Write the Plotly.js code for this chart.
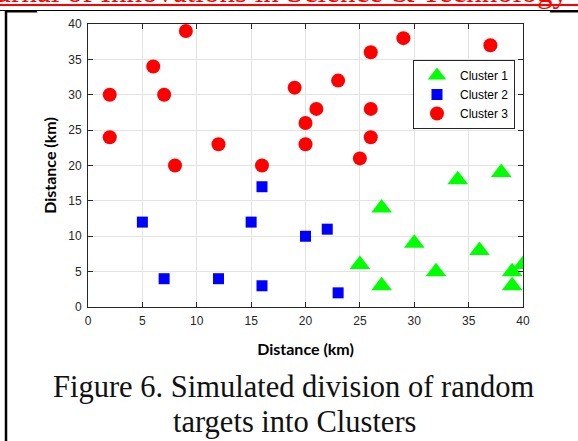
<!DOCTYPE html>
<html>
<head>
<meta charset="utf-8">
<script src="https://cdn.plot.ly/plotly-3.0.1.min.js"></script>
<style>
  html, body { margin: 0; padding: 0; background: #ffffff; }
  #chart { width: 578px; height: 441px; }
</style>
</head>
<body>
<div id="chart"></div>
<script>
// ---- data ----
const cluster1X = [27, 34, 38, 30, 36, 25, 32, 40, 39, 27, 39];
const cluster1Y = [14, 18, 19, 9, 8, 6, 5, 6, 5, 3, 3];

const cluster2X = [5, 7, 12, 15, 16, 16, 20, 22, 23];
const cluster2Y = [12, 4, 4, 12, 17, 3, 10, 11, 2];

const cluster3X = [2, 2, 6, 7, 9, 8, 12, 16, 19, 20, 20, 21, 23, 25, 26, 26, 26, 29, 37];
const cluster3Y = [30, 24, 34, 30, 39, 20, 23, 20, 31, 26, 23, 28, 32, 21, 36, 28, 24, 38, 37];

const seriesNames = ['Cluster 1', 'Cluster 2', 'Cluster 3'];
const axisTickVals = [0, 5, 10, 15, 20, 25, 30, 35, 40];
const axisTitle = 'Distance (km)';
const headerText = 'Journal of Innovations in Science &amp; Technology';
const captionLine1 = 'Figure 6. Simulated division of random';
const captionLine2 = 'targets into Clusters';

// ---- layout geometry ----
const W = 578, H = 441;
const M = { l: 88, r: 55, t: 24, b: 134 };
const plotW = W - M.l - M.r, plotH = H - M.t - M.b;
const px = X => (X - M.l) / plotW;          // page pixel x -> paper x
const py = Y => (H - M.b - Y) / plotH;      // page pixel y -> paper y

const AXC = '#262626';

const traces = [
  { x: cluster1X, y: cluster1Y, name: seriesNames[0], type: 'scatter', mode: 'markers',
    marker: { symbol: 'triangle-up', size: 18, color: '#00ff00', line: { width: 0 } } },
  { x: cluster2X, y: cluster2Y, name: seriesNames[1], type: 'scatter', mode: 'markers',
    marker: { symbol: 'square', size: 11, color: '#0000ff', line: { width: 0 } } },
  { x: cluster3X, y: cluster3Y, name: seriesNames[2], type: 'scatter', mode: 'markers',
    marker: { symbol: 'circle', size: 14, color: '#ff0000', line: { width: 0 } } }
];

const axisCommon = {
  range: [0, 40], tickvals: axisTickVals, ticktext: axisTickVals.map(String),
  showgrid: true, gridcolor: '#e3e3e3', gridwidth: 1, zeroline: false,
  showline: true, linecolor: AXC, linewidth: 1, mirror: 'ticks',
  ticks: 'inside', ticklen: 5, tickwidth: 1, tickcolor: AXC,
  tickfont: { family: 'Liberation Sans, Arial, sans-serif', size: 12, color: AXC },
  fixedrange: true
};

const titleFont = { family: 'Lato, sans-serif', size: 16, color: '#000000', weight: 'bold' };

const layout = {
  width: W, height: H,
  margin: M,
  paper_bgcolor: '#ffffff', plot_bgcolor: '#ffffff',
  showlegend: true,
  legend: {
    x: px(413), y: py(60), xanchor: 'left', yanchor: 'top',
    bgcolor: '#ffffff', bordercolor: AXC, borderwidth: 1,
    font: { family: 'Liberation Sans, Arial, sans-serif', size: 12, color: '#000000' },
    itemwidth: 36, tracegroupgap: 0
  },
  xaxis: Object.assign({}, axisCommon, {
    ticklabelstandoff: 3,
    title: { text: axisTitle, standoff: 16, font: titleFont }
  }),
  yaxis: Object.assign({}, axisCommon, {
    ticklabelstandoff: 3,
    title: { text: axisTitle, standoff: 7, font: titleFont }
  }),
  shapes: [
    // red header underline
    { type: 'line', xref: 'paper', yref: 'paper', x0: px(0), x1: px(578), y0: py(5), y1: py(5),
      line: { color: '#ff0000', width: 2 } },
    // black page rule
    { type: 'line', xref: 'paper', yref: 'paper', x0: px(0), x1: px(578), y0: py(10.5), y1: py(10.5),
      line: { color: '#000000', width: 1 } },
    { type: 'line', xref: 'paper', yref: 'paper', x0: px(5), x1: px(37), y0: py(11.5), y1: py(11.5),
      line: { color: '#000000', width: 2 } },
    { type: 'line', xref: 'paper', yref: 'paper', x0: px(550), x1: px(578), y0: py(11.5), y1: py(11.5),
      line: { color: '#000000', width: 2 } },
    // left frame border
    { type: 'line', xref: 'paper', yref: 'paper', x0: px(6), x1: px(6), y0: py(11), y1: py(441),
      line: { color: '#000000', width: 2.5 } }
  ],
  annotations: [
    { xref: 'paper', yref: 'paper', x: px(570), y: py(-9), xanchor: 'right', yanchor: 'middle',
      text: headerText, showarrow: false,
      font: { family: 'Liberation Serif, Times New Roman, serif', size: 31, color: '#ff0000' } },
    { xref: 'paper', yref: 'paper', x: px(293), y: py(387), xanchor: 'center', yanchor: 'middle',
      text: captionLine1, showarrow: false,
      font: { family: 'Liberation Serif, Times New Roman, serif', size: 30.5, color: '#111111' } },
    { xref: 'paper', yref: 'paper', x: px(294), y: py(422), xanchor: 'center', yanchor: 'middle',
      text: captionLine2, showarrow: false,
      font: { family: 'Liberation Serif, Times New Roman, serif', size: 30.5, color: '#111111' } }
  ]
};

Plotly.newPlot('chart', traces, layout, { displayModeBar: false, staticPlot: true });
</script>
</body>
</html>
